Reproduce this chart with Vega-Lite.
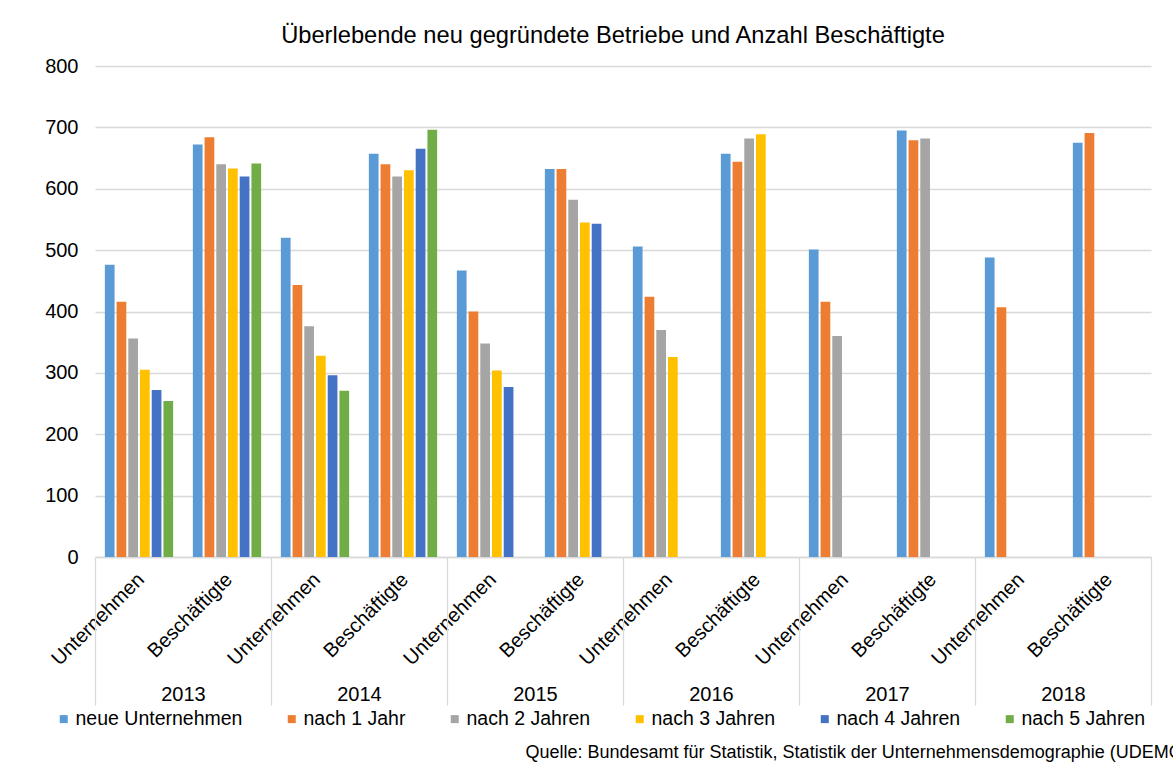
{
  "$schema": "https://vega.github.io/schema/vega-lite/v6.json",
  "autosize": {"type": "none"},
  "padding": {"left": 95, "top": 66, "right": 22, "bottom": 208},
  "width": 1056,
  "height": 491,
  "background": "white",
  "config": {"font": "Liberation Sans", "view": {"stroke": null}},
  "title": {"text": "Überlebende neu gegründete Betriebe und Anzahl Beschäftigte", "fontSize": 23.7, "fontWeight": "normal", "color": "#000000", "anchor": "middle", "dx": -10, "offset": 8},
  "data": {"values": [
    {"cat": "2013 Unternehmen", "year": "2013", "s": "neue Unternehmen", "v": 476},
    {"cat": "2013 Unternehmen", "year": "2013", "s": "nach 1 Jahr", "v": 416},
    {"cat": "2013 Unternehmen", "year": "2013", "s": "nach 2 Jahren", "v": 356},
    {"cat": "2013 Unternehmen", "year": "2013", "s": "nach 3 Jahren", "v": 305},
    {"cat": "2013 Unternehmen", "year": "2013", "s": "nach 4 Jahren", "v": 272},
    {"cat": "2013 Unternehmen", "year": "2013", "s": "nach 5 Jahren", "v": 254},
    {"cat": "2013 Beschäftigte", "year": "2013", "s": "neue Unternehmen", "v": 672},
    {"cat": "2013 Beschäftigte", "year": "2013", "s": "nach 1 Jahr", "v": 684},
    {"cat": "2013 Beschäftigte", "year": "2013", "s": "nach 2 Jahren", "v": 640},
    {"cat": "2013 Beschäftigte", "year": "2013", "s": "nach 3 Jahren", "v": 633},
    {"cat": "2013 Beschäftigte", "year": "2013", "s": "nach 4 Jahren", "v": 620},
    {"cat": "2013 Beschäftigte", "year": "2013", "s": "nach 5 Jahren", "v": 641},
    {"cat": "2014 Unternehmen", "year": "2014", "s": "neue Unternehmen", "v": 520},
    {"cat": "2014 Unternehmen", "year": "2014", "s": "nach 1 Jahr", "v": 443},
    {"cat": "2014 Unternehmen", "year": "2014", "s": "nach 2 Jahren", "v": 376},
    {"cat": "2014 Unternehmen", "year": "2014", "s": "nach 3 Jahren", "v": 328},
    {"cat": "2014 Unternehmen", "year": "2014", "s": "nach 4 Jahren", "v": 296},
    {"cat": "2014 Unternehmen", "year": "2014", "s": "nach 5 Jahren", "v": 271},
    {"cat": "2014 Beschäftigte", "year": "2014", "s": "neue Unternehmen", "v": 657},
    {"cat": "2014 Beschäftigte", "year": "2014", "s": "nach 1 Jahr", "v": 640},
    {"cat": "2014 Beschäftigte", "year": "2014", "s": "nach 2 Jahren", "v": 620},
    {"cat": "2014 Beschäftigte", "year": "2014", "s": "nach 3 Jahren", "v": 630},
    {"cat": "2014 Beschäftigte", "year": "2014", "s": "nach 4 Jahren", "v": 665},
    {"cat": "2014 Beschäftigte", "year": "2014", "s": "nach 5 Jahren", "v": 696},
    {"cat": "2015 Unternehmen", "year": "2015", "s": "neue Unternehmen", "v": 467},
    {"cat": "2015 Unternehmen", "year": "2015", "s": "nach 1 Jahr", "v": 400},
    {"cat": "2015 Unternehmen", "year": "2015", "s": "nach 2 Jahren", "v": 348},
    {"cat": "2015 Unternehmen", "year": "2015", "s": "nach 3 Jahren", "v": 304},
    {"cat": "2015 Unternehmen", "year": "2015", "s": "nach 4 Jahren", "v": 277},
    {"cat": "2015 Beschäftigte", "year": "2015", "s": "neue Unternehmen", "v": 632},
    {"cat": "2015 Beschäftigte", "year": "2015", "s": "nach 1 Jahr", "v": 632},
    {"cat": "2015 Beschäftigte", "year": "2015", "s": "nach 2 Jahren", "v": 582},
    {"cat": "2015 Beschäftigte", "year": "2015", "s": "nach 3 Jahren", "v": 545},
    {"cat": "2015 Beschäftigte", "year": "2015", "s": "nach 4 Jahren", "v": 543},
    {"cat": "2016 Unternehmen", "year": "2016", "s": "neue Unternehmen", "v": 506},
    {"cat": "2016 Unternehmen", "year": "2016", "s": "nach 1 Jahr", "v": 424},
    {"cat": "2016 Unternehmen", "year": "2016", "s": "nach 2 Jahren", "v": 370},
    {"cat": "2016 Unternehmen", "year": "2016", "s": "nach 3 Jahren", "v": 326},
    {"cat": "2016 Beschäftigte", "year": "2016", "s": "neue Unternehmen", "v": 657},
    {"cat": "2016 Beschäftigte", "year": "2016", "s": "nach 1 Jahr", "v": 644},
    {"cat": "2016 Beschäftigte", "year": "2016", "s": "nach 2 Jahren", "v": 682},
    {"cat": "2016 Beschäftigte", "year": "2016", "s": "nach 3 Jahren", "v": 689},
    {"cat": "2017 Unternehmen", "year": "2017", "s": "neue Unternehmen", "v": 501},
    {"cat": "2017 Unternehmen", "year": "2017", "s": "nach 1 Jahr", "v": 416},
    {"cat": "2017 Unternehmen", "year": "2017", "s": "nach 2 Jahren", "v": 360},
    {"cat": "2017 Beschäftigte", "year": "2017", "s": "neue Unternehmen", "v": 695},
    {"cat": "2017 Beschäftigte", "year": "2017", "s": "nach 1 Jahr", "v": 679},
    {"cat": "2017 Beschäftigte", "year": "2017", "s": "nach 2 Jahren", "v": 682},
    {"cat": "2018 Unternehmen", "year": "2018", "s": "neue Unternehmen", "v": 488},
    {"cat": "2018 Unternehmen", "year": "2018", "s": "nach 1 Jahr", "v": 407},
    {"cat": "2018 Beschäftigte", "year": "2018", "s": "neue Unternehmen", "v": 675},
    {"cat": "2018 Beschäftigte", "year": "2018", "s": "nach 1 Jahr", "v": 691}
  ]},
  "layer": [
    {
      "mark": {"type": "bar"},
      "encoding": {
        "x": {"field": "cat", "type": "nominal", "sort": null,
          "scale": {"paddingInner": 0.224, "paddingOuter": 0.112},
          "axis": {"orient": "bottom", "title": null, "labelExpr": "split(datum.label, ' ')[1]", "labelAngle": -45, "labelFontSize": 20, "labelColor": "#000000", "labelPadding": 12, "labelOffset": -5, "ticks": false, "domain": true, "domainColor": "#d9d9d9", "domainWidth": 1.3, "grid": false}},
        "xOffset": {"field": "s", "type": "nominal", "scale": {"domain": ["neue Unternehmen", "nach 1 Jahr", "nach 2 Jahren", "nach 3 Jahren", "nach 4 Jahren", "nach 5 Jahren"], "paddingInner": 0.17, "paddingOuter": 0}},
        "y": {"field": "v", "type": "quantitative", "scale": {"domain": [0, 800]},
          "axis": {"title": null, "values": [0, 100, 200, 300, 400, 500, 600, 700, 800], "domain": false, "ticks": false, "labelFontSize": 20, "labelColor": "#000000", "labelPadding": 17, "gridColor": "#d9d9d9", "gridWidth": 1.3}},
        "color": {"field": "s", "type": "nominal",
          "scale": {"domain": ["neue Unternehmen", "nach 1 Jahr", "nach 2 Jahren", "nach 3 Jahren", "nach 4 Jahren", "nach 5 Jahren"], "range": ["#5B9BD5", "#ED7D31", "#A5A5A5", "#FFC000", "#4472C4", "#70AD47"]},
          "legend": {"title": null, "orient": "none", "legendX": -41, "legendY": 643, "direction": "horizontal", "columns": 6, "symbolType": "square", "symbolSize": 64, "symbolStrokeWidth": 0, "labelFontSize": 19.5, "labelLimit": 400, "labelColor": "#000000", "labelOffset": 2, "columnPadding": 39}}
      }
    },
    {
      "mark": {"type": "point", "opacity": 0},
      "encoding": {
        "x": {"field": "year", "type": "nominal", "sort": null,
          "scale": {"paddingInner": 0, "paddingOuter": 0},
          "axis": {"orient": "bottom", "title": "Quelle: Bundesamt für Statistik, Statistik der Unternehmensdemographie (UDEMO)", "titleFontSize": 18, "titleFontWeight": "normal", "titleColor": "#000000", "titleX": 430, "titleY": 195, "titleAlign": "left", "titleBaseline": "middle", "titleAnchor": null, "titleLimit": 2000, "labelAngle": 0, "labelFontSize": 20, "labelColor": "#000000", "labelPadding": -21, "labelBaseline": "top", "tickBand": "extent", "tickSize": 148, "tickColor": "#d9d9d9", "tickWidth": 1.3, "domain": false, "grid": false}},
        "y": {"field": "v", "type": "quantitative"}
      }
    }
  ],
  "resolve": {"scale": {"x": "independent"}, "axis": {"x": "independent"}}
}
